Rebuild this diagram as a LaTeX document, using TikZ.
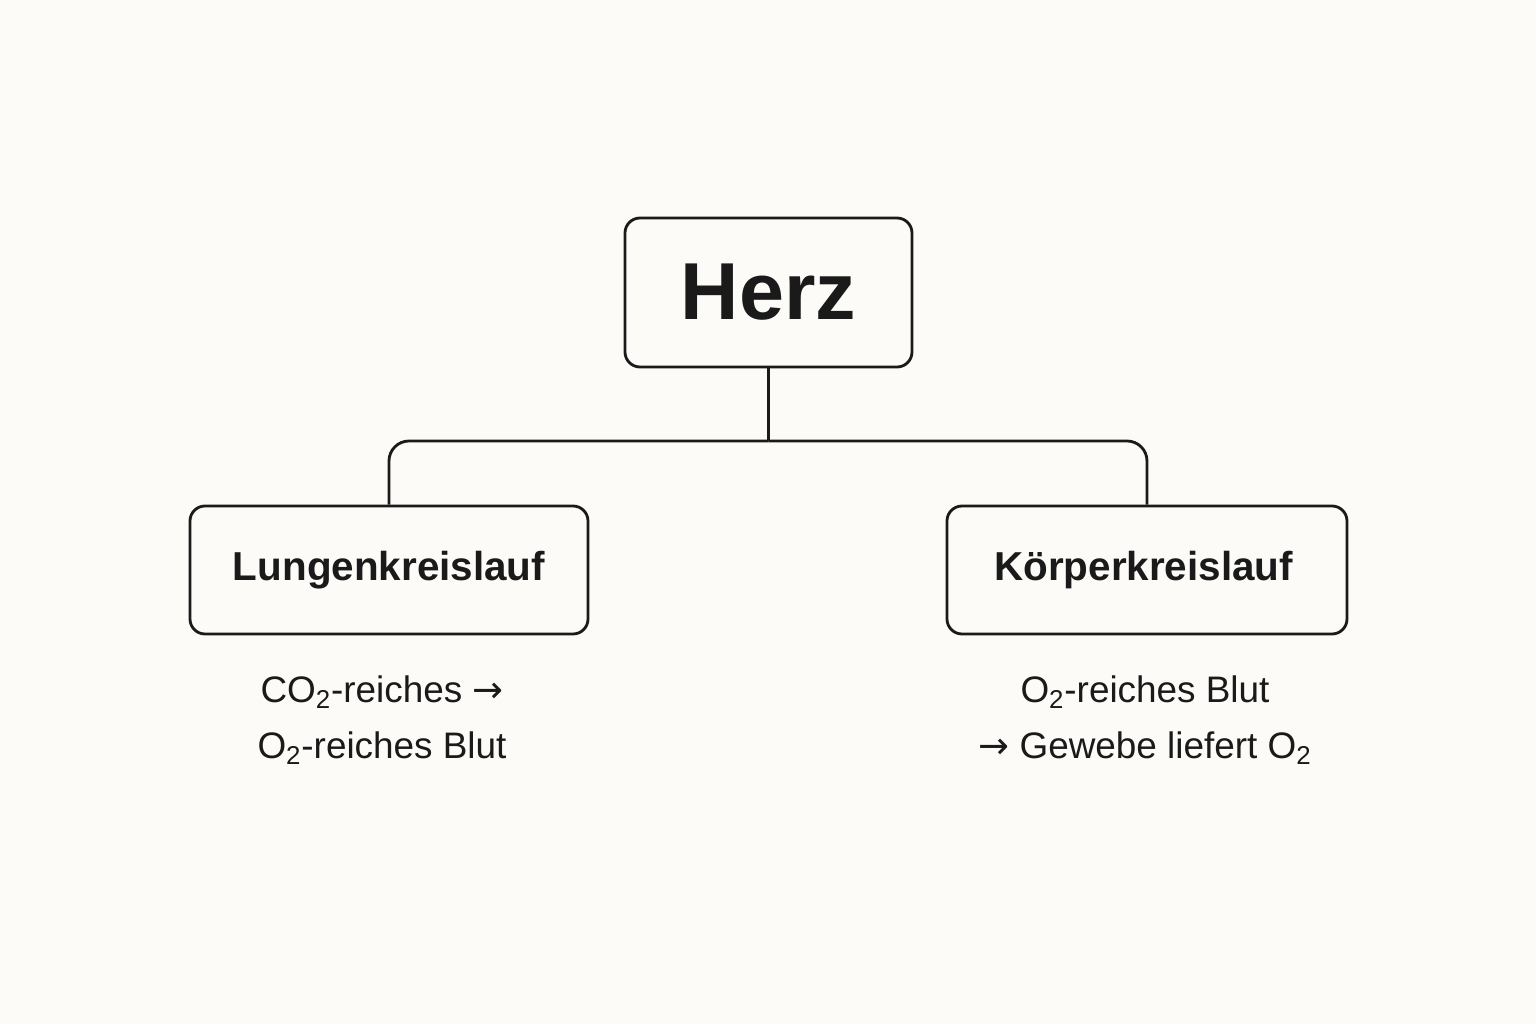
\documentclass[tikz,border=0pt]{standalone}
\usepackage{fontspec}
\setmainfont{Liberation Sans}
\newfontfamily\arr{DejaVu Sans}
\definecolor{bg}{HTML}{FCFBF8}
\definecolor{ink}{HTML}{1A1A1A}
\newcommand{\sub}[1]{\textsubscript{#1}}
\newcommand{\ra}{{\arr →}}
\begin{document}
\begin{tikzpicture}[x=0.02cm,y=-0.02cm,
  box/.style={draw=ink,line width=1.6pt,rounded corners=0.3cm,text=ink},
  conn/.style={draw=ink,line width=1.6pt,rounded corners=0.4cm},
  note/.style={text=ink,font=\fontsize{21}{32}\selectfont,align=center}]
\fill[bg] (0,0) rectangle (1536,1024);
\useasboundingbox (0,0) rectangle (1536,1024);
\node[box,minimum width=287*0.02cm,minimum height=149*0.02cm,font=\fontsize{46}{50}\bfseries\selectfont] (herz) at (768.5,292.5) {Herz};
\node[box,minimum width=398*0.02cm,minimum height=128*0.02cm,font=\fontsize{23}{28}\bfseries\selectfont] (lung) at (389,570) {Lungenkreislauf};
\node[box,minimum width=400*0.02cm,minimum height=128*0.02cm,font=\fontsize{23}{28}\bfseries\selectfont] (koer) at (1147,570) {Körperkreislauf\,};
\coordinate (j) at (768.5,441);
\draw[conn] (herz.south) -- (j);
\draw[conn] (j) -| (lung.north);
\draw[conn] (j) -| (koer.north);
\node[note] (ln) at (382,720) {CO\sub{2}-reiches \ra\\O\sub{2}-reiches Blut};
\node[note] (kn) at (1145,720) {O\sub{2}-reiches Blut\\\ra{} Gewebe liefert O\sub{2}};
\end{tikzpicture}
\end{document}
